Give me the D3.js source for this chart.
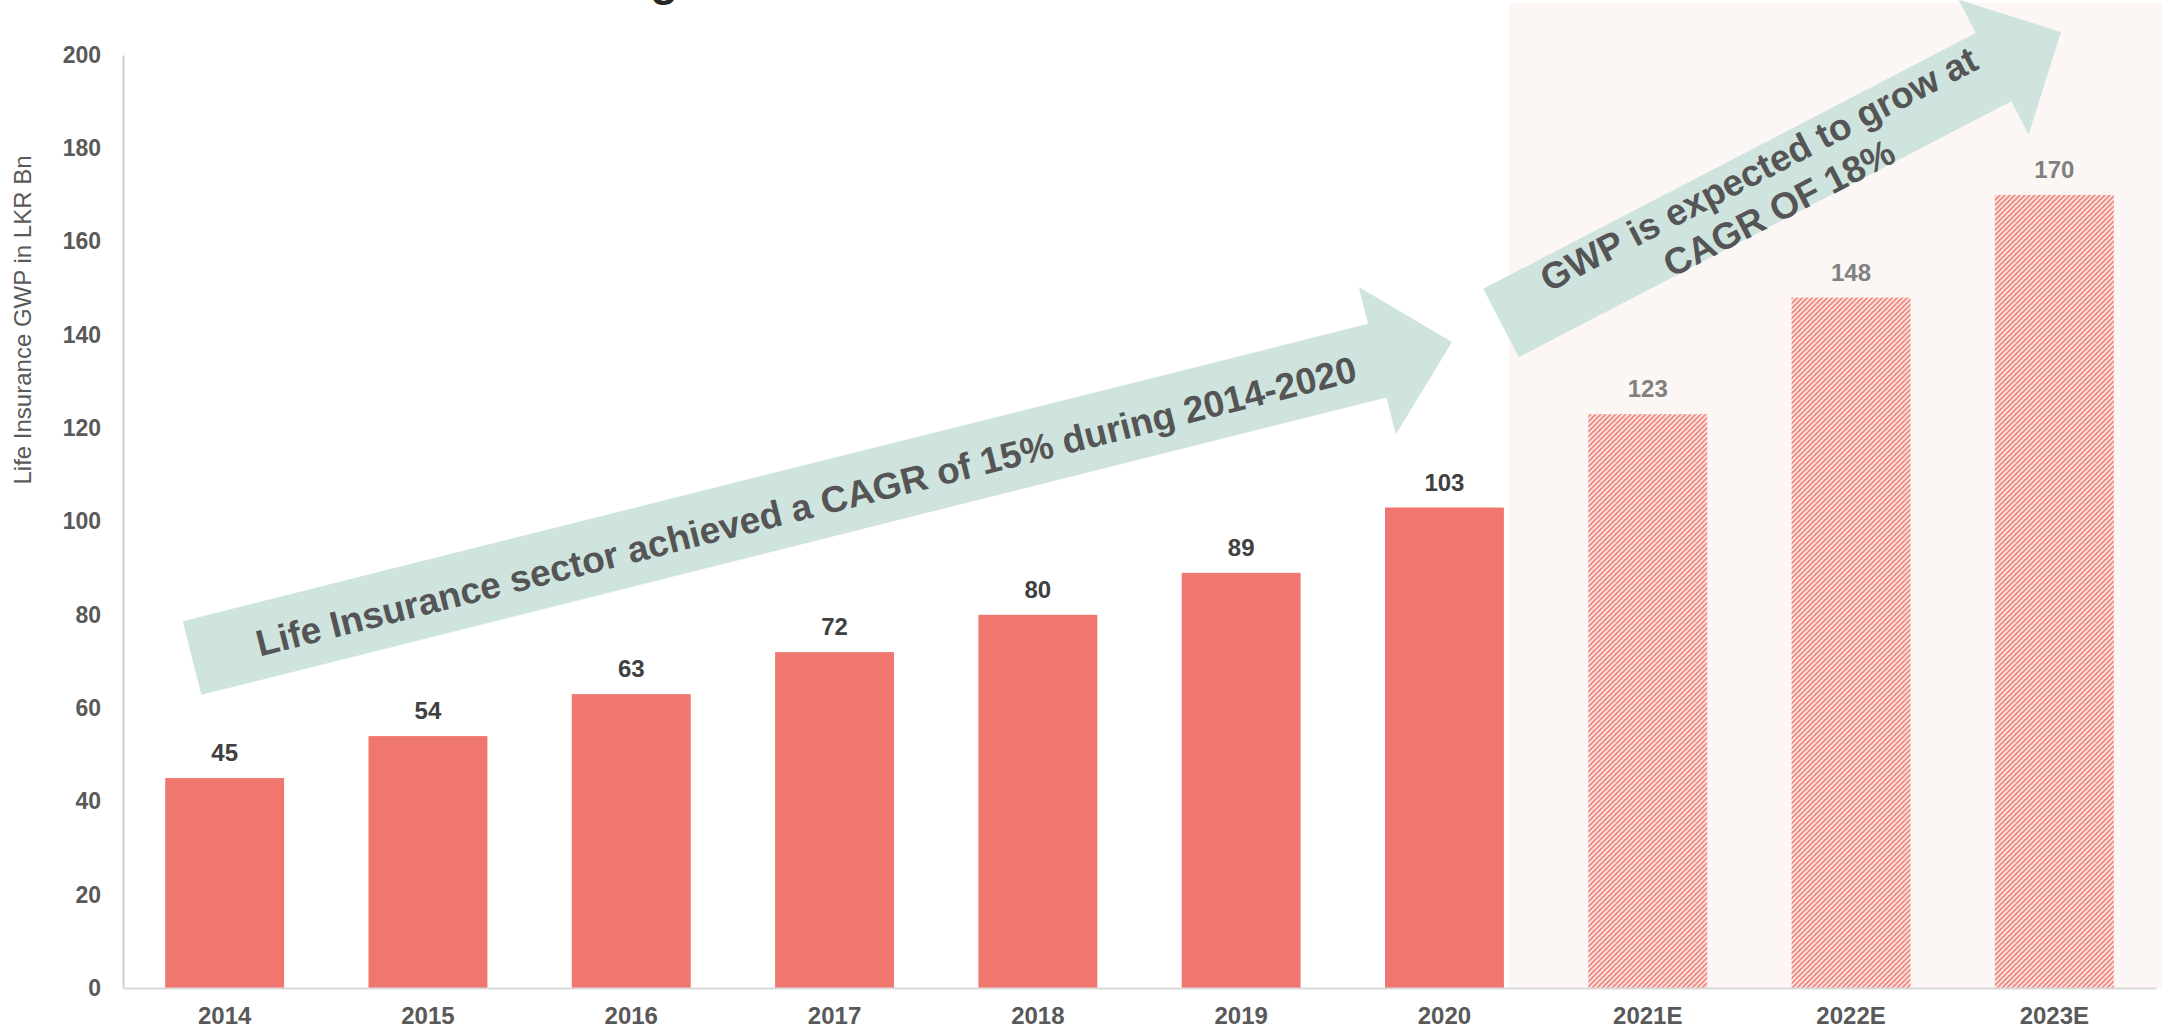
<!DOCTYPE html>
<html>
<head>
<meta charset="utf-8">
<script src="https://cdn.jsdelivr.net/npm/d3@7"></script>
<style>
  html, body { margin: 0; padding: 0; background: #ffffff; }
  svg { display: block; }
  text { font-family: "Liberation Sans", Arial, sans-serif; }
</style>
</head>
<body>
<svg id="chart" width="2162" height="1033"></svg>
<script>
// ---- data ----
const categories = ["2014", "2015", "2016", "2017", "2018", "2019", "2020", "2021E", "2022E", "2023E"];
const actualValues = [45, 54, 63, 72, 80, 89, 103];
const forecastValues = [123, 148, 170];
const yTicks = [0, 20, 40, 60, 80, 100, 120, 140, 160, 180, 200];
const yAxisTitle = "Life Insurance GWP in LKR Bn";
const pastTrendText = ["Life Insurance sector achieved a CAGR of 15% during 2014-2020"];
const outlookText = ["GWP is expected to grow at", "CAGR OF 18%"];

const rows = categories.map((c, i) => ({
  category: c,
  value: i < actualValues.length ? actualValues[i] : forecastValues[i - actualValues.length],
  forecast: i >= actualValues.length
}));

// ---- layout ----
const W = 2162, H = 1033;
const plot = { left: 123, right: 2156, top: 55, bottom: 988 };
const FONT = 24;

const svg = d3.select("#chart");

const x = d3.scaleBand()
  .domain(categories)
  .range([plot.left, plot.right])
  .paddingInner(0.415)
  .paddingOuter(0.2075);

const y = d3.scaleLinear()
  .domain([0, 200])
  .range([plot.bottom, plot.top]);

// hatch fill for the projected years
const defs = svg.append("defs");
const hatch = defs.append("pattern")
  .attr("id", "hatch")
  .attr("patternUnits", "userSpaceOnUse")
  .attr("width", 5)
  .attr("height", 5);
hatch.append("rect").attr("width", 5).attr("height", 5).attr("fill", "#fdf5f3");
hatch.append("path")
  .attr("d", "M-1,1 l2,-2 M0,5 l5,-5 M4,6 l2,-2")
  .attr("stroke", "#f28e86")
  .attr("stroke-width", 2.1);

// shaded forecast region
const lastActual = categories[actualValues.length - 1];
const shadeX = x(lastActual) + x.bandwidth() + 5;
svg.append("rect")
  .attr("x", shadeX)
  .attr("y", 3)
  .attr("width", W - shadeX)
  .attr("height", plot.bottom - 3)
  .attr("fill", "#fcf6f4");

// title fragment at the top edge
svg.append("text")
  .attr("x", 650)
  .attr("y", -5)
  .attr("font-size", 46)
  .attr("font-weight", "bold")
  .attr("fill", "#262626")
  .text("g");

// ---- axes ----
const yAxis = svg.append("g")
  .attr("transform", `translate(${plot.left},0)`)
  .call(d3.axisLeft(y).tickValues(yTicks).tickSize(0).tickSizeOuter(0).tickPadding(22));
yAxis.select(".domain").attr("stroke", "#d0d0d0").attr("stroke-width", 2);
yAxis.selectAll("text")
  .attr("font-size", 23)
  .attr("font-weight", "bold")
  .attr("fill", "#595959")
  .style("font-family", "'Liberation Sans', Arial, sans-serif");

svg.append("text")
  .attr("transform", `translate(31,320) rotate(-90)`)
  .attr("text-anchor", "middle")
  .attr("font-size", FONT)
  .attr("fill", "#595959")
  .text(yAxisTitle);

// ---- bars ----
svg.append("g")
  .selectAll("rect")
  .data(rows)
  .join("rect")
  .attr("x", d => x(d.category))
  .attr("y", d => y(d.value))
  .attr("width", x.bandwidth())
  .attr("height", d => y(0) - y(d.value))
  .attr("fill", d => d.forecast ? "url(#hatch)" : "#f0776f");

// value labels
svg.append("g")
  .selectAll("text")
  .data(rows)
  .join("text")
  .attr("x", d => x(d.category) + x.bandwidth() / 2)
  .attr("y", d => y(d.value) - 17)
  .attr("text-anchor", "middle")
  .attr("font-size", FONT)
  .attr("font-weight", "bold")
  .attr("fill", d => d.forecast ? "#808080" : "#404040")
  .text(d => d.value);

const xAxis = svg.append("g")
  .attr("transform", `translate(0,${plot.bottom})`)
  .call(d3.axisBottom(x).tickSize(0).tickSizeOuter(0).tickPadding(19));
xAxis.select(".domain").attr("stroke", "#d9d9d9").attr("stroke-width", 2);
xAxis.selectAll("text")
  .attr("font-size", FONT)
  .attr("font-weight", "bold")
  .attr("fill", "#595959")
  .style("font-family", "'Liberation Sans', Arial, sans-serif");

// ---- trend arrows ----
function arrowPath(tail, tip, shaftW, headW, headL) {
  const dx = tip[0] - tail[0], dy = tip[1] - tail[1];
  const len = Math.hypot(dx, dy);
  const u = [dx / len, dy / len];
  const n = [-u[1], u[0]];
  const base = [tip[0] - u[0] * headL, tip[1] - u[1] * headL];
  const off = (p, k) => [p[0] + n[0] * k, p[1] + n[1] * k];
  const pts = [
    off(tail, -shaftW / 2), off(base, -shaftW / 2), off(base, -headW / 2),
    tip,
    off(base, headW / 2), off(base, shaftW / 2), off(tail, shaftW / 2)
  ];
  return d3.line()(pts) + "Z";
}

const arrows = [
  { tail: [192, 658], tip: [1452, 342], shaftW: 76, headW: 152, headL: 77,
    textAt: 0.487, lines: pastTrendText, shift: 2 },
  { tail: [1501, 323], tip: [2061, 32], shaftW: 77, headW: 152, headL: 76,
    textAt: 0.475, lines: outlookText, shift: 4 }
];

arrows.forEach(a => {
  svg.append("path")
    .attr("d", arrowPath(a.tail, a.tip, a.shaftW, a.headW, a.headL))
    .attr("fill", "#cfe4df");

  const angle = Math.atan2(a.tip[1] - a.tail[1], a.tip[0] - a.tail[0]) * 180 / Math.PI;
  const cx = a.tail[0] + (a.tip[0] - a.tail[0]) * a.textAt;
  const cy = a.tail[1] + (a.tip[1] - a.tail[1]) * a.textAt;
  const g = svg.append("g").attr("transform", `translate(${cx},${cy}) rotate(${angle})`);
  const lh = 44;
  g.selectAll("text")
    .data(a.lines)
    .join("text")
    .attr("x", 0)
    .attr("y", (d, i) => a.shift + (i - (a.lines.length - 1) / 2) * lh)
    .attr("dy", "0.35em")
    .attr("text-anchor", "middle")
    .attr("font-size", 37)
    .attr("font-weight", "bold")
    .attr("fill", "#555555")
    .text(d => d);
});
</script>
</body>
</html>
